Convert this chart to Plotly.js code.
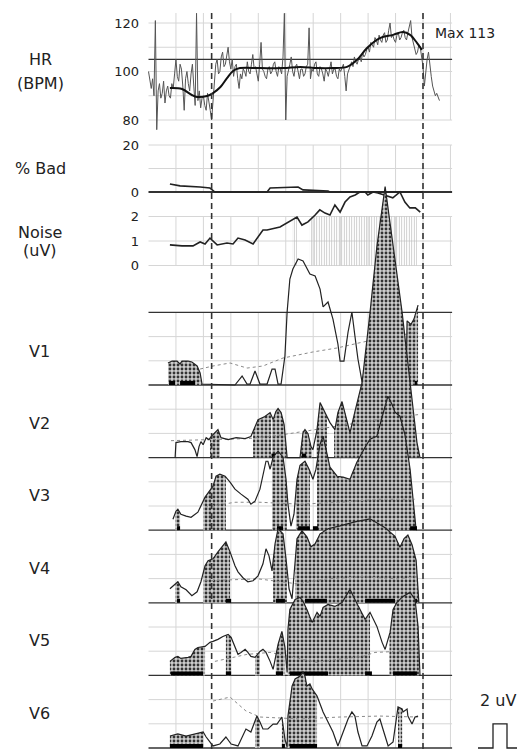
<!DOCTYPE html>
<html><head><meta charset="utf-8">
<script src="https://cdn.plot.ly/plotly-3.0.1.min.js"></script>
<style>html,body{margin:0;padding:0;background:#fff;}#chart{width:520px;height:749px;}</style>
</head><body><div id="chart"></div>
<script>
// ================= DATA (x in grid units: 10 units per grid column) =================
const eventMarks = [23, 100];
const hrThreshold = 105;
const hrMaxLabel = 'Max 113';

// raw heart rate, one reading every half unit starting at x = 0
const hrRawStep = 0.5;
const hrRaw = [
  100,96,93,97,90,121,76,92,95,89,
  91,96,87,92,94,90,89,95,93,99,
  105,98,96,103,101,94,84,97,100,95,
  92,99,103,94,86,124,88,92,85,89,
  90,86,84,91,88,84,80,88,95,103,
  105,99,100,106,108,102,103,107,110,104,
  101,105,98,102,103,97,93,99,97,101,
  100,98,104,100,99,103,107,101,102,99,
  96,103,112,101,100,98,97,101,102,99,
  100,103,104,100,98,102,101,99,106,124,
  80,98,100,103,106,100,98,102,103,99,
  97,101,101,98,99,102,103,118,97,101,
  100,103,104,99,98,102,101,99,96,101,
  100,98,102,104,99,101,101,98,97,101,
  100,102,103,98,92,99,101,103,104,102,
  106,104,103,105,106,104,108,106,107,109,
  110,108,112,111,110,114,113,111,115,113,
  112,115,116,112,113,117,120,114,115,113,
  112,115,116,113,114,116,117,114,113,116,
  118,121,114,112,110,107,108,111,110,106,
  102,94,101,105,108,102,98,94,92,90,
  91,89,88];
const hrSmoothX = [7.8,12.2,15.8,17.7,21.3,23.5,26.2,28.6,30.8,33.3,40.6,49.0,55.3,61.4,67.2,72.3,75.9,79.6,84.3,89.1,92.7,95.3,97.8,99.6];
const hrSmooth = [93.2,92.8,90.3,89.5,89.9,91.1,93.6,97.3,100.2,101.4,101.4,101.4,101.9,101.4,101.4,101.9,104.7,109.7,113.8,115.1,116.3,115.1,111.8,108.9];

const badX = [7.8,11.5,18.8,22.4,24.2,43.2,44.3,52.6,54.5,56.3,65.4,66.1,100];
const badPct = [3.4,2.6,2.1,1.7,0,0,1.7,2.1,2.1,0.9,0.4,0,0];

const noiseX = [7.8,12.2,16.2,18.8,20.6,22.4,25.0,28.6,30.8,32.6,35.2,38.1,41.7,43.2,47.9,50.5,52.6,54.1,55.9,58.1,60.7,62.4,64.3,66.1,67.9,69.8,71.6,73.4,75.3,77.0,78.9,79.9,81.8,83.6,89.0,91.6,93.4,95.2,97.2,99.0];
const noiseUV = [0.84,0.80,0.80,0.96,0.88,1.12,0.84,0.92,0.88,1.12,1.04,0.88,1.45,1.45,1.57,1.73,1.86,1.98,1.65,1.78,2.06,2.27,2.14,2.06,2.47,2.18,2.59,2.80,2.88,3.0,3.0,2.88,3.0,2.96,2.76,3.0,2.59,2.35,2.35,2.18];
const noiseBands = [[52.3,54.1],[58.8,97.8]];
const noiseBandLevel = 2;

const v1X = [7.1,8.6,10.4,11.5,12.2,14.4,15.8,17.7,18.8,19.5,31.5,34.1,35.9,37.0,38.8,40.6,43.2,45.0,46.1,47.2,48.3,49.7,50.5,51.5,52.6,54.5,56.3,57.7,58.8,60.7,62.5,63.6,65.4,67.2,69.0,69.8,71.2,72.7,74.1,75.2,76.3,77.8,79.2,93.8,94.2,95.6,96.7,98.2];
const v1 = [1.82,1.98,1.98,1.74,1.98,1.98,1.90,1.57,0.99,0.08,0,0.74,0.08,0.08,1.16,0.08,0.08,1.32,1.32,0.08,0.08,2.40,6.03,8.76,9.59,10.41,10.25,9.59,9.17,9.01,7.93,6.45,6.86,5.45,3.39,1.98,1.98,4.38,6.03,4.05,2.15,0.25,0,0,5.3,5.0,5.45,6.6];
const v1ThrX = [18.8,23.5,29.7,35.9,41.7,49.0,59.9,68.7,78.1,88.0,98.2];
const v1Thr = [1.32,1.57,1.82,1.40,1.57,2.23,2.73,3.06,3.55,3.97,4.38];
const v1Fill = [[7.1,19.5],[94.0,98.2]];
const v1Bars = [[7.5,9.7],[11.5,17.0],[97.0,97.8]];

const v2X = [9.7,10.0,11.8,14.4,15.5,16.9,17.7,18.4,19.1,19.9,21.0,22.0,22.8,24.2,25.3,26.4,29.0,31.9,35.2,37.3,38.8,39.9,42.4,44.3,45.4,46.4,47.2,48.3,49.4,50.1,50.5,55.2,55.9,56.3,57.0,58.1,59.2,59.9,61.4,62.5,64.3,66.1,67.9,69.0,70.5,71.6,73.4,75.2,77.8,80.7,83.2,86.2,89.1,92.4,95.3,96.7,97.8,98.9];
const v2 = [0,1.24,1.32,1.32,1.24,0.66,0.08,0.91,1.32,1.07,1.65,1.49,1.74,2.07,2.31,1.65,1.49,1.65,1.57,1.74,2.56,3.14,3.39,3.72,3.14,3.80,4.05,3.72,2.73,0.91,0,0,1.49,2.07,2.31,1.98,0.91,0.66,2.31,4.55,3.72,2.89,2.31,3.72,4.63,3.72,2.07,3.80,6.20,11.98,17.44,22.40,17.44,11.98,6.20,3.14,1.24,0];
const v2ThrX = [8.2,22.4,36.2,46.8,56.3,66.1,77.0,88.0,98.2];
const v2Thr = [1.40,1.49,1.57,1.82,2.15,2.48,2.89,3.31,3.55];
const v2Fill = [[22.4,26.0],[38.1,44.6],[44.9,50.3],[54.5,59.6],[61.2,65.0],[67.6,98.9]];
const v2Bars = [[44.8,46.5],[55.9,57.4]];

const v3X = [8.9,10.0,10.7,11.8,13.7,15.5,18.0,20.6,23.5,24.6,26.0,27.9,29.7,31.5,33.7,36.2,37.3,38.8,40.6,41.7,42.8,43.5,44.3,45.4,47.2,49.0,50.1,50.8,51.9,53.0,54.1,55.2,57.0,58.5,59.9,61.0,62.5,63.6,64.7,66.1,68.7,70.9,73.4,75.9,78.9,80.7,83.2,85.4,87.2,88.7,89.8,91.6,93.4,95.3,96.4,97.5];
const v3 = [0.91,1.57,1.74,1.32,1.16,1.07,1.49,2.73,3.64,4.46,4.63,4.46,3.97,3.39,2.98,2.56,2.15,2.40,3.39,4.63,5.70,5.70,5.04,6.03,6.53,6.03,4.21,2.15,0.33,1.32,4.21,5.37,5.70,5.04,4.21,5.04,7.11,7.77,6.53,5.21,4.46,4.38,4.21,5.62,6.86,7.52,7.77,9.59,11.07,10.41,9.75,9.42,7.93,5.04,2.56,0];
const v3ThrX = [20.6,31.5,40.6,55.2,69.8,84.3,97.1];
const v3Thr = [1.90,2.31,2.31,2.15,2.31,2.56,2.56];
const v3Fill = [[9.7,11.5],[19.9,28.2],[45.0,50.4],[53.7,58.8],[61.4,97.5]];
const v3Bars = [[10.4,11.5],[46.8,49.0],[54.5,58.8],[59.9,61.8],[95.3,97.8]];

const v4X = [7.8,9.7,10.7,11.8,13.7,15.8,17.7,19.1,20.6,21.7,23.5,25.3,27.1,28.2,29.7,31.5,32.6,34.4,36.2,38.1,39.9,41.7,42.8,43.9,45.0,46.1,47.2,49.0,50.1,51.2,52.3,53.0,54.1,55.9,57.7,59.2,60.7,62.5,65.4,69.8,75.2,80.7,86.2,89.8,91.6,93.1,94.5,96.0,97.5,98.5];
const v4 = [1.16,1.57,1.74,1.32,1.07,0.58,0.91,1.74,3.06,3.47,3.64,4.21,4.71,5.04,4.21,3.06,2.56,2.07,1.74,1.82,2.23,3.22,4.46,3.88,2.64,4.88,6.12,5.70,3.64,1.16,0.33,2.40,5.29,5.95,5.45,4.63,4.88,5.70,6.12,6.36,6.69,6.94,6.20,5.50,4.60,5.30,5.60,4.80,3.50,0];
const v4ThrX = [20.6,39.9,54.1,65.0,78.1,90.5,97.5];
const v4Thr = [1.82,1.98,1.57,1.98,2.15,1.98,2.15];
const v4Fill = [[9.7,11.5],[19.9,29.7],[45.4,50.4],[53.4,98.5]];
const v4Bars = [[10.4,11.5],[28.2,30.1],[46.4,49.7],[57.0,65.0],[78.9,89.8],[96.4,97.8]];

const v5X = [7.8,9.7,10.7,11.8,14.4,15.5,16.9,18.0,20.6,22.4,23.5,25.3,27.1,29.0,30.1,31.5,32.6,33.7,35.2,36.2,37.3,38.8,40.6,41.7,42.8,44.3,45.4,47.2,48.6,49.7,50.5,50.8,51.5,53.4,55.2,56.3,57.7,59.6,61.4,62.5,63.6,65.4,67.9,70.5,72.3,73.4,75.2,77.0,78.9,80.7,83.2,85.1,86.2,88.0,89.1,90.5,92.7,95.3,97.1,98.2,98.9];
const v5 = [1.16,1.49,1.57,1.40,1.49,1.57,2.15,2.31,2.40,2.73,2.81,2.98,3.22,3.39,3.14,2.40,1.74,1.90,2.15,1.90,1.57,1.49,1.98,2.15,1.90,1.16,0.50,2.56,3.64,2.31,0.25,3.80,5.45,6.28,6.45,6.12,5.45,4.38,5.21,4.88,5.62,5.87,5.70,6.03,6.69,7.11,6.28,5.45,4.63,5.21,4.05,2.73,2.15,3.55,5.45,6.03,6.53,6.86,6.28,4.05,0];
const v5ThrX = [24.2,31.5,35.9,44.3,51.5,61.4,68.7,78.1,82.5,90.5,97.8];
const v5Thr = [1.16,1.49,1.74,1.90,1.57,1.07,1.32,1.57,1.90,1.98,2.15];
const v5Fill = [[7.8,20.6],[28.2,30.1],[38.8,40.6],[46.4,49.7],[50.7,80.7],[87.8,98.5]];
const v5Bars = [[8.2,19.9],[28.2,30.1],[46.4,49.0],[51.5,65.4],[78.9,81.4],[89.1,97.8]];

const v6X = [7.8,10.7,13.7,16.9,19.9,21.0,23.5,26.0,28.2,30.1,32.6,35.5,37.3,38.8,39.5,40.6,41.7,43.5,45.4,46.8,48.6,49.7,50.5,50.8,52.3,53.4,55.2,56.3,57.0,57.7,58.8,59.6,61.4,62.5,63.6,65.4,67.2,69.0,70.9,72.7,74.1,75.2,76.3,77.8,79.6,81.4,83.2,84.3,85.4,87.3,89.1,90.9,92.4,92.7,94.2,94.5,96.0,97.1,98.2];
const v6 = [0.99,1.16,0.99,1.16,1.32,0.91,0.17,0.33,0.91,0.33,0.17,1.57,1.32,2.23,2.64,2.15,1.57,1.57,1.98,1.98,2.56,0.74,0.08,2.64,5.12,5.70,5.95,6.28,5.95,5.12,5.29,4.88,4.30,3.64,2.98,2.15,1.32,0.17,1.32,2.40,2.98,2.64,1.32,0.17,0.17,0.99,2.15,2.40,1.57,0.17,0.50,3.39,3.22,2.98,3.22,2.64,1.98,2.56,2.64];
const v6ThrX = [23.5,29.7,35.5,40.6,55.2,69.8,84.3,98.2];
const v6Thr = [3.88,4.21,3.06,2.56,2.40,2.56,2.64,2.56];
const v6Fill = [[7.8,19.9],[38.8,40.6],[48.6,49.7],[50.7,61.4],[90.9,92.4]];
const v6Bars = [[7.8,19.9],[48.6,49.7],[51.5,61.4],[90.9,92.4]];

const leadNames = ['V1','V2','V3','V4','V5','V6'];
const scaleBarUV = 2;

// ================= LAYOUT GEOMETRY =================
const W = 520, H = 749;
const px2x = p => p / W, py2y = p => 1 - p / H;
const X0PX = 148.5, XS = 2.745;
const xRange = [(148 - X0PX) / XS, (453 - X0PX) / XS];
const bpm = p => 100 + (71.5 - p) / 2.425;
const pct = p => (192 - p) / 2.35;
const nz = p => (265.5 - p) / 24.5;
const uv = p => (748 - p) / 12.1;
const PANEL = 6;
const FONT = 'DejaVu Sans';
const INK = '#222';
const GRID = '#d6d6d6';

const hrRawX = hrRaw.map((_, i) => i * hrRawStep);

const leads = [
  {x: v1X, y: v1, tx: v1ThrX, ty: v1Thr, fill: v1Fill, bars: v1Bars},
  {x: v2X, y: v2, tx: v2ThrX, ty: v2Thr, fill: v2Fill, bars: v2Bars},
  {x: v3X, y: v3, tx: v3ThrX, ty: v3Thr, fill: v3Fill, bars: v3Bars},
  {x: v4X, y: v4, tx: v4ThrX, ty: v4Thr, fill: v4Fill, bars: v4Bars},
  {x: v5X, y: v5, tx: v5ThrX, ty: v5Thr, fill: v5Fill, bars: v5Bars},
  {x: v6X, y: v6, tx: v6ThrX, ty: v6Thr, fill: v6Fill, bars: v6Bars}
];

function interp(xs, ys, x) {
  if (x <= xs[0]) return ys[0];
  for (let i = 1; i < xs.length; i++) {
    if (x <= xs[i]) { const t = (x - xs[i-1]) / (xs[i] - xs[i-1]); return ys[i-1] + t * (ys[i] - ys[i-1]); }
  }
  return ys[ys.length - 1];
}

const traces = [];
traces.push({x: hrRawX, y: hrRaw, xaxis: 'x', yaxis: 'y', mode: 'lines', line: {color: '#555', width: 1}, hoverinfo: 'skip'});
traces.push({x: hrSmoothX, y: hrSmooth, xaxis: 'x', yaxis: 'y', mode: 'lines', line: {color: '#111', width: 2, shape: 'spline'}, hoverinfo: 'skip'});
traces.push({x: badX, y: badPct, xaxis: 'x', yaxis: 'y2', mode: 'lines', line: {color: INK, width: 1.6}, hoverinfo: 'skip'});
noiseBands.forEach(b => {
  traces.push({x: [b[0], b[0], b[1], b[1], b[0]], y: [0, noiseBandLevel, noiseBandLevel, 0, 0], xaxis: 'x', yaxis: 'y3',
    mode: 'none', fill: 'toself', fillcolor: 'rgba(255,255,255,0)',
    fillpattern: {shape: '|', fgcolor: '#bdbdbd', bgcolor: 'rgba(255,255,255,0)', size: 2.5, solidity: 0.3}, hoverinfo: 'skip'});
});
traces.push({x: noiseX, y: noiseUV, xaxis: 'x', yaxis: 'y3', mode: 'lines', line: {color: INK, width: 1.6}, hoverinfo: 'skip'});

leads.forEach((L, i) => {
  const off = (leads.length - 1 - i) * PANEL;
  L.fill.forEach(seg => {
    const a = seg[0], b = seg[1];
    const xs = [a, a], ys = [off, off + interp(L.x, L.y, a)];
    L.x.forEach((xv, k) => { if (xv > a && xv < b) { xs.push(xv); ys.push(off + L.y[k]); } });
    xs.push(b, b, a); ys.push(off + interp(L.x, L.y, b), off, off);
    traces.push({x: xs, y: ys, xaxis: 'x', yaxis: 'y4', mode: 'none', fill: 'toself', fillcolor: '#bdbdbd',
      fillpattern: {shape: '.', fgcolor: '#333', bgcolor: '#cdcdcd', size: 4, solidity: 0.4}, hoverinfo: 'skip'});
  });
  traces.push({x: L.tx, y: L.ty.map(v => v + off), xaxis: 'x', yaxis: 'y4', mode: 'lines',
    line: {color: '#8a8a8a', width: 1, dash: 'dot'}, hoverinfo: 'skip'});
  traces.push({x: L.x, y: L.y.map(v => v + off), xaxis: 'x', yaxis: 'y4', mode: 'lines',
    line: {color: INK, width: 1.2}, hoverinfo: 'skip'});
  L.bars.forEach(bb => {
    traces.push({x: [bb[0], bb[0], bb[1], bb[1], bb[0]], y: [off, off + 0.33, off + 0.33, off, off], xaxis: 'x', yaxis: 'y4',
      mode: 'none', fill: 'toself', fillcolor: '#000', hoverinfo: 'skip'});
  });
});

traces.push({x: [8, 23, 23, 37, 37, 47], y: [0, 0, scaleBarUV, scaleBarUV, 0, 0], xaxis: 'x2', yaxis: 'y4', mode: 'lines',
  line: {color: INK, width: 1.3}, hoverinfo: 'skip'});

const shapes = [];
const gridCols = [10,20,30,40,50,60,70,80,90,100,110];
function vgrid(yref, y0, y1) { gridCols.forEach(c => shapes.push({type: 'line', xref: 'x', yref, x0: c, x1: c, y0, y1, line: {color: GRID, width: 1}, layer: 'below'})); }
function hline(yref, y, color, width) { shapes.push({type: 'line', xref: 'x', yref, x0: 0, x1: 110.6, y0: y, y1: y, line: {color, width}, layer: 'below'}); }
vgrid('y', 80, bpm(13)); [80, 90, 100, 110, 120].forEach(v => hline('y', v, GRID, 1));
hline('y', hrThreshold, '#333', 1.3);
vgrid('y2', 0, 20); [10, 20].forEach(v => hline('y2', v, GRID, 1));
hline('y2', 0, '#333', 1.8);
vgrid('y3', 0, 2); [0, 1, 2].forEach(v => hline('y3', v, GRID, 1));
vgrid('y4', 0, PANEL * 6);
for (let v = 0; v <= PANEL * 6; v += 2) { if (v % PANEL !== 0) hline('y4', v, GRID, 1); }
for (let v = 0; v <= PANEL * 6; v += PANEL) hline('y4', v, '#333', 1.3);
eventMarks.forEach(m => shapes.push({type: 'line', xref: 'x', yref: 'paper', x0: m, x1: m, y0: 0, y1: py2y(13),
  line: {color: '#333', width: 1.6, dash: '6px,4px'}, layer: 'above'}));

const ann = [];
function label(text, xpx, ypx, size, anchor) {
  ann.push({text, xref: 'paper', yref: 'paper', x: px2x(xpx), y: py2y(ypx), xanchor: anchor || 'center', yanchor: 'middle',
    showarrow: false, font: {family: FONT, size, color: INK}});
}
label('HR', 40, 59, 16); label('(BPM)', 40, 83, 16);
label('% Bad', 40, 168, 16);
label('Noise', 40, 233, 16); label('(uV)', 40, 250, 16);
const leadLabelY = [351, 423, 496, 568, 640, 713];
leadNames.forEach((n, i) => label(n, 39, leadLabelY[i], 16));
label(hrMaxLabel, 433, 33, 14, 'left');
label(scaleBarUV + ' uV', 498, 700, 16);

const tickAxis = (dom, range, vals) => ({domain: dom, range, anchor: 'x', tickvals: vals, showgrid: false, zeroline: false,
  showline: false, ticks: '', ticklabelstandoff: 8, tickfont: {family: FONT, size: 13, color: INK}, fixedrange: true});

const layout = {
  width: W, height: H, margin: {l: 0, r: 0, t: 0, b: 0}, showlegend: false,
  paper_bgcolor: '#fff', plot_bgcolor: 'rgba(0,0,0,0)',
  xaxis: {domain: [px2x(148), px2x(453)], range: xRange, visible: false, anchor: 'y4', fixedrange: true},
  xaxis2: {domain: [px2x(470), 1], range: [0, 50], visible: false, anchor: 'y4', fixedrange: true},
  yaxis: tickAxis([py2y(134), py2y(10)], [bpm(134), bpm(10)], [80, 100, 120]),
  yaxis2: tickAxis([py2y(197), py2y(140)], [pct(197), pct(140)], [0, 20]),
  yaxis3: tickAxis([py2y(270), py2y(188)], [nz(270), nz(188)], [0, 1, 2]),
  yaxis4: {domain: [0, py2y(175)], range: [uv(749), uv(175)], anchor: 'x', visible: false, fixedrange: true},
  shapes, annotations: ann
};

Plotly.newPlot('chart', traces, layout, {staticPlot: true, displayModeBar: false});
</script>
</body></html>
